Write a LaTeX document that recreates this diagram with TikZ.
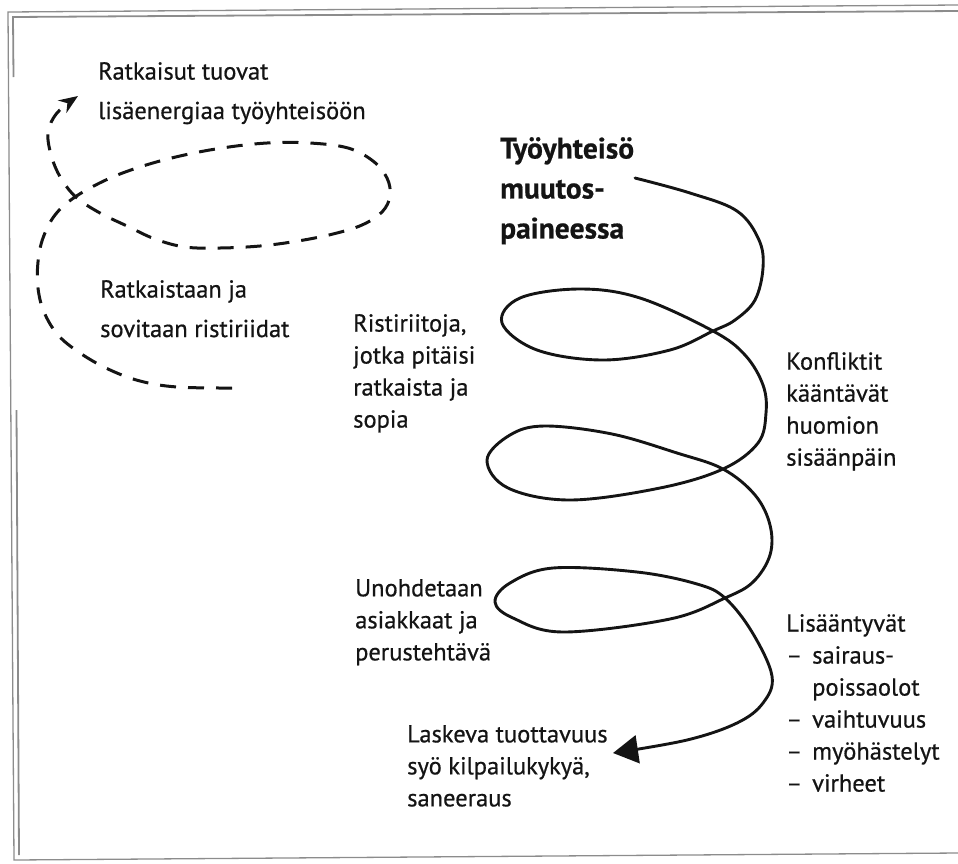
\documentclass[tikz,border=0pt]{standalone}
\usepackage{fontspec}
\setmainfont{PT Sans}[FakeBold=0.6]
\usetikzlibrary{arrows.meta}
\definecolor{ink}{gray}{0.08}
\definecolor{framegray}{gray}{0.55}
\begin{document}
\begin{tikzpicture}[x=1pt,y=-1pt,
  lbl/.style={anchor=north west, inner sep=0pt, align=left, text=ink,
    font=\fontsize{24.5}{32}\selectfont},
  lblwide/.style={lbl, font=\fontsize{24.5}{39.5}\selectfont},
  titlelbl/.style={lbl, font=\fontsize{29.5}{40}\selectfont\bfseries},
  solidcurve/.style={draw=ink, line width=2.9pt, line cap=round, line join=round},
  dashcurve/.style={draw=ink, line width=3pt, dash pattern=on 16pt off 12pt},
  frameline/.style={draw=framegray, line width=1.3pt}
]
\useasboundingbox (0,0) rectangle (958,863);

% frame (slightly rotated scan)
\draw[frameline] (958,5) -- (8,12) -- (14,860) -- (958,853);
\draw[frameline, line width=1.8pt] (958,11) -- (13,17) -- (13.5,77);
\draw[frameline, line width=1.8pt] (16.5,410) -- (19,855);

% labels
\node[lblwide] (ratkaisut) at (98,62) {Ratkaisut tuovat\\lisäenergiaa työyhteisöön};
\node[lblwide] (ratkaistaan) at (100,280) {Ratkaistaan ja\\sovitaan ristiriidat};
\node[titlelbl] (title) at (500,137) {Työyhteisö\\muutos-\\paineessa};
\node[lbl] (ristiriitoja) at (353,314) {Ristiriitoja,\\jotka pitäisi\\ratkaista ja\\sopia};
\node[lbl] (konfliktit) at (786,352) {Konfliktit\\kääntävät\\huomion\\sisäänpäin};
\node[lbl] (unohdetaan) at (355,579) {Unohdetaan\\asiakkaat ja\\perustehtävä};
\node[lbl] (lisaantyvat) at (786,614) {Lisääntyvät\\
  \makebox[26pt][l]{–}sairaus-\\
  \hspace*{26pt}poissaolot\\
  \makebox[26pt][l]{–}vaihtuvuus\\
  \makebox[26pt][l]{–}myöhästelyt\\
  \makebox[26pt][l]{–}virheet};
\node[lbl] (laskeva) at (407,725) {Laskeva tuottavuus\\syö kilpailukykyä,\\saneeraus};

% solid spiral
\coordinate (sstart) at (635,178);
\coordinate (send) at (613,753);
\draw[solidcurve, -{Triangle[length=25pt,width=28pt]}] plot[smooth, tension=0.6] coordinates {
  (sstart) (690,193) (737,211) (759,240) (763,268) (755,300) (735,320) (713,331)
  (670,350) (603,360) (537,350) (502,323) (520,298) (580,289) (640,298) (713,331)
  (745,355) (763,385) (766,413) (758,443) (723,469) (660,488) (570,500) (508,488)
  (487,460) (510,435) (545,426) (612,434) (677,453) (723,469) (755,495) (770,525)
  (770,555) (753,582) (725,598) (670,619) (563,632) (513,618) (495,602) (510,583)
  (553,568) (637,572) (697,584) (725,598) (752,632) (772,676) (763,703) (737,723)
  (687,740) (send)};

% dashed spiral
\coordinate (dstart) at (232,388);
\coordinate (dend) at (78,96);
\draw[dashcurve, -{Stealth[length=19pt,width=15pt]}] plot[smooth, tension=0.6] coordinates {
  (dstart) (177,387) (140,381) (108,369) (80,353) (58,335) (44,312) (38,288)
  (38,262) (43,238) (55,215) (75,197) (108,179) (143,166) (180,156) (222,148)
  (267,143) (310,143) (348,148) (373,161) (387,178) (390,196) (382,212) (362,225)
  (333,234) (298,241) (260,246) (220,248) (185,247) (155,239) (127,226) (100,213)
  (77,198) (62,180) (52,158) (48,133) (57,113) (dend)};
\end{tikzpicture}
\end{document}
